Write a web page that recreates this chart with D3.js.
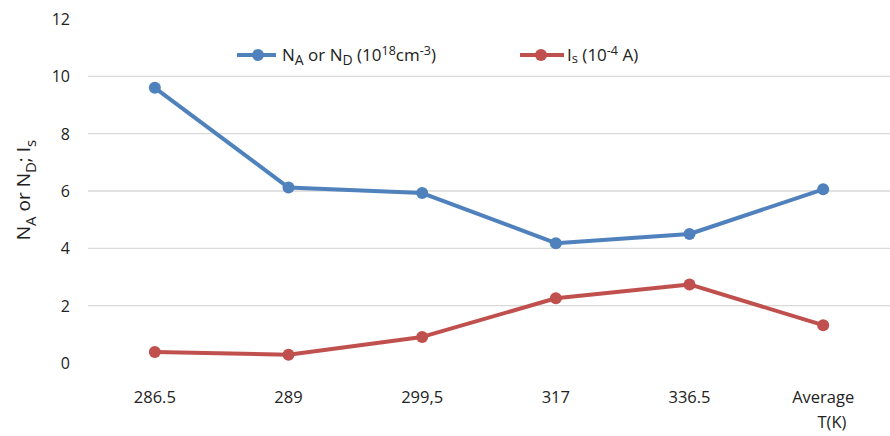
<!DOCTYPE html>
<html><head><meta charset="utf-8">
<script src="https://cdn.jsdelivr.net/npm/d3@7"></script>
<style>body{margin:0;background:#fff;} text{font-family:"Open Sans","Liberation Sans",sans-serif;fill:#222;}</style>
</head><body><svg id="c" width="890" height="436"></svg>
<script>
const categories = ["286.5","289","299,5","317","336.5","Average"];
const naNd = [9.6, 6.12, 5.93, 4.18, 4.5, 6.06];
const isVals = [0.38, 0.29, 0.91, 2.26, 2.74, 1.32];
const yTicks = [0,2,4,6,8,10,12];

const svg = d3.select("#c");
const x = d3.scaleBand().domain(categories).range([88, 890]);
const y = d3.scaleLinear().domain([0,12]).range([363, 19]);

// gridlines
svg.append("g").selectAll("line").data(yTicks.filter(d=>d>0&&d<12)).join("line")
  .attr("x1",88).attr("x2",890).attr("y1",d=>y(d)).attr("y2",d=>y(d))
  .attr("stroke","#d9d9d9").attr("stroke-width",1.3);

// y tick labels
svg.append("g").selectAll("text").data(yTicks).join("text")
  .attr("x",70).attr("y",d=>y(d)+6).attr("text-anchor","end")
  .attr("font-size",16).text(d=>d);

// x labels
svg.append("g").selectAll("text").data(categories).join("text")
  .attr("x",d=>x(d)+x.bandwidth()/2).attr("y",403).attr("text-anchor","middle")
  .attr("font-size",16.5).text(d=>d);

svg.append("text").attr("x",832).attr("y",428).attr("text-anchor","middle").attr("font-size",16.5).text("T(K)");

// y label
const yl = svg.append("text").attr("transform","translate(30,190) rotate(-90)").attr("text-anchor","middle").attr("font-size",19);
yl.append("tspan").text("N");
yl.append("tspan").attr("dy",6).attr("font-size",15).text("A");
yl.append("tspan").attr("dy",-6).text(" or N");
yl.append("tspan").attr("dy",6).attr("font-size",15).text("D");
yl.append("tspan").attr("dy",-6).text("; I");
yl.append("tspan").attr("dy",6).attr("font-size",15).text("s");

const cx = d => x(d)+x.bandwidth()/2;
function series(vals,color){
  const pts = categories.map((c,i)=>[cx(c), y(vals[i])]);
  svg.append("path").attr("d",d3.line()(pts)).attr("fill","none").attr("stroke",color).attr("stroke-width",4).attr("stroke-linejoin","round");
  svg.append("g").selectAll("circle").data(pts).join("circle").attr("cx",d=>d[0]).attr("cy",d=>d[1]).attr("r",6).attr("fill",color);
}
series(naNd,"#4f81bd");
series(isVals,"#c0504d");

// legend
const lg = svg.append("g");
lg.append("line").attr("x1",237).attr("x2",276).attr("y1",55).attr("y2",55).attr("stroke","#4f81bd").attr("stroke-width",4);
lg.append("circle").attr("cx",258).attr("cy",55).attr("r",6).attr("fill","#4f81bd");
const t1 = lg.append("text").attr("x",282).attr("y",61).attr("font-size",17);
t1.append("tspan").text("N");
t1.append("tspan").attr("dy",4).attr("font-size",14).text("A");
t1.append("tspan").attr("dy",-4).text(" or N");
t1.append("tspan").attr("dy",4).attr("font-size",14).text("D");
t1.append("tspan").attr("dy",-4).text(" (10");
t1.append("tspan").attr("dy",-6).attr("font-size",12.5).text("18");
t1.append("tspan").attr("dy",6).text("cm");
t1.append("tspan").attr("dy",-6).attr("font-size",12.5).text("-3");
t1.append("tspan").attr("dy",6).text(")");

lg.append("line").attr("x1",520).attr("x2",564).attr("y1",55).attr("y2",55).attr("stroke","#c0504d").attr("stroke-width",4);
lg.append("circle").attr("cx",541).attr("cy",55).attr("r",6).attr("fill","#c0504d");
const t2 = lg.append("text").attr("x",567).attr("y",61).attr("font-size",17);
t2.append("tspan").text("I");
t2.append("tspan").attr("dy",2).attr("font-size",13).text("s");
t2.append("tspan").attr("dy",-2).text(" (10");
t2.append("tspan").attr("dy",-6).attr("font-size",12.5).text("-4");
t2.append("tspan").attr("dy",6).text(" A)");
</script></body></html>
